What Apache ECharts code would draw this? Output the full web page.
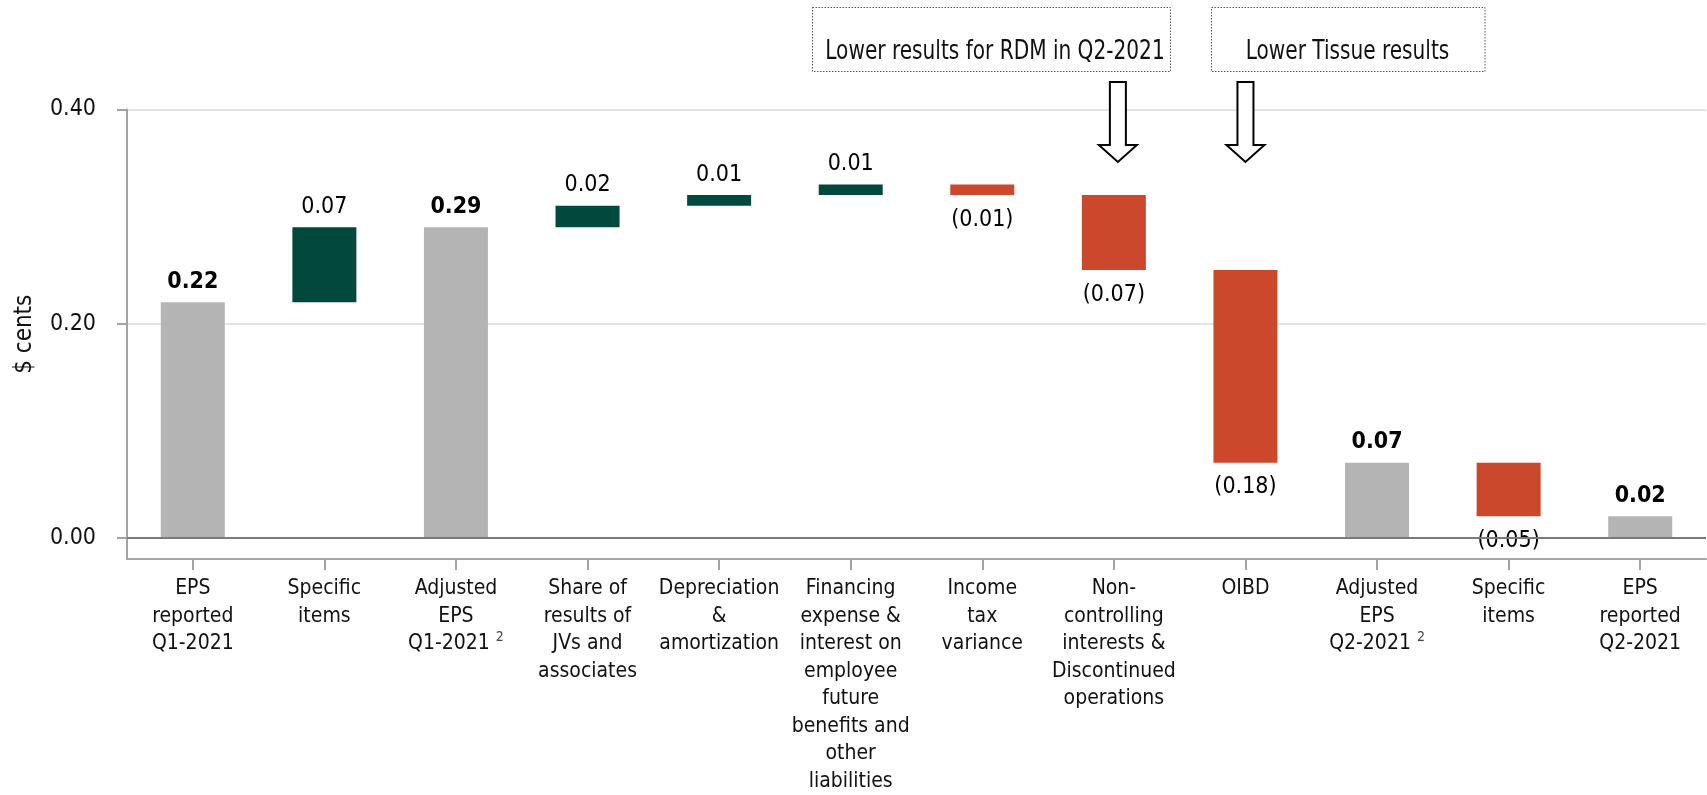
<!DOCTYPE html>
<html>
<head>
<meta charset="utf-8">
<script src="https://cdn.jsdelivr.net/npm/echarts@6/dist/echarts.min.js"></script>
<style>
  html, body { margin: 0; padding: 0; background: #fff; }
  #chart { width: 1707px; height: 795px; }
</style>
</head>
<body>
<div id="chart"></div>
<script>
const FONT = "'Liberation Sans Narrow', 'Arial Narrow', 'DejaVu Sans Condensed', sans-serif"

// categories (line breaks as in the slide) + footnote markers
const categories = [
  'EPS\nreported\nQ1-2021',
  'Specific\nitems',
  'Adjusted\nEPS\nQ1-2021',
  'Share of\nresults of\nJVs and\nassociates',
  'Depreciation\n&\namortization',
  'Financing\nexpense &\ninterest on\nemployee\nfuture\nbenefits and\nother\nliabilities',
  'Income\ntax\nvariance',
  'Non-\ncontrolling\ninterests &\nDiscontinued\noperations',
  'OIBD',
  'Adjusted\nEPS\nQ2-2021',
  'Specific\nitems',
  'EPS\nreported\nQ2-2021',
]
const footnotes = ['', '', '2', '', '', '', '', '', '', '2', '', '']

// waterfall: invisible base + visible step
const barBase = [0, 0.22, 0, 0.29, 0.31, 0.32, 0.32, 0.25, 0.07, 0, 0.02, 0]
const barSize = [0.22, 0.07, 0.29, 0.02, 0.01, 0.01, 0.01, 0.07, 0.18, 0.07, 0.05, 0.02]
const barKind = ['total', 'up', 'total', 'up', 'up', 'up', 'down', 'down', 'down', 'total', 'down', 'total']
const valueLabels = ['0.22', '0.07', '0.29', '0.02', '0.01', '0.01', '(0.01)', '(0.07)', '(0.18)', '0.07', '(0.05)', '0.02']

const yTicks = [0, 0.2, 0.4]

// call-outs pointing at bars
const notes = ['Lower results for RDM in Q2-2021', 'Lower Tissue results']
const noteTargets = [7, 8]

const colors = { total: '#b4b4b4', up: '#03483d', down: '#cc482d' }

const chart = echarts.init(document.getElementById('chart'))

const stepData = barSize.map((v, i) => {
  const kind = barKind[i]
  return {
    value: v,
    itemStyle: { color: colors[kind] },
    label: kind === 'down'
      ? { position: 'bottom', distance: 13, fontWeight: 'normal' }
      : { position: 'top', distance: 9, fontWeight: kind === 'total' ? 'bold' : 'normal' },
  }
})

const option = {
  animation: false,
  textStyle: { fontFamily: FONT },
  grid: {
    left: 127,
    right: 1,
    top: 109.5,
    bottom: 236,
    outerBoundsMode: 'none',
  },
  xAxis: {
    type: 'category',
    data: categories,
    axisLine: { onZero: false, lineStyle: { color: '#a3a3a3', width: 2 } },
    axisTick: { show: true, alignWithLabel: true, length: 11, lineStyle: { color: '#a3a3a3', width: 2 } },
    axisLabel: {
      interval: 0,
      margin: 16,
      fontSize: 21,
      lineHeight: 27.5,
      color: '#111',
      fontFamily: FONT,
      formatter: (v, i) => (footnotes[i] ? v + ' {sup|' + footnotes[i] + '}' : v),
      rich: {
        sup: { fontSize: 14, color: '#444', verticalAlign: 'top', lineHeight: 27.5, fontFamily: FONT },
      },
    },
    splitLine: { show: false },
  },
  yAxis: {
    type: 'value',
    min: -0.02,
    max: 0.4,
    name: '$ cents',
    nameLocation: 'middle',
    nameRotate: 90,
    nameGap: 90,
    nameTextStyle: { fontSize: 24, color: '#111', fontFamily: FONT },
    axisLine: { show: true, lineStyle: { color: '#a3a3a3', width: 2 } },
    axisTick: { show: true, length: 10, customValues: yTicks, lineStyle: { color: '#a3a3a3', width: 2 } },
    axisLabel: {
      customValues: yTicks,
      formatter: (v) => v.toFixed(2),
      margin: 31,
      fontSize: 23,
      color: '#111',
      fontFamily: FONT,
    },
    splitLine: { show: true, lineStyle: { color: '#e4e4e4', width: 2 } },
  },
  series: [
    {
      name: 'base',
      type: 'bar',
      stack: 'wf',
      barWidth: 64,
      silent: true,
      itemStyle: { color: 'transparent' },
      data: barBase,
    },
    {
      name: 'step',
      type: 'bar',
      stack: 'wf',
      barWidth: 64,
      label: {
        show: true,
        fontSize: 23,
        color: '#000',
        fontFamily: FONT,
        formatter: (p) => valueLabels[p.dataIndex],
      },
      markLine: {
        silent: true,
        symbol: 'none',
        label: { show: false },
        lineStyle: { color: '#7a7a7a', width: 2, type: 'solid' },
        data: [{ yAxis: 0 }],
      },
      data: stepData,
    },
  ],
}

chart.setOption(option)

// annotation boxes and hollow arrows
const boxes = [
  { x: 812.5, w: 358, tx: 995 },
  { x: 1211.5, w: 273.5, tx: 1347.5 },
]
const graphics = []
notes.forEach((txt, i) => {
  const b = boxes[i]
  graphics.push({
    type: 'rect',
    shape: { x: b.x, y: 7.5, width: b.w, height: 64 },
    style: { fill: 'none', stroke: '#555', lineWidth: 1, lineDash: [1.5, 1.5] },
    z: 10,
  })
  graphics.push({
    type: 'text',
    x: b.tx,
    y: 52,
    scaleX: 0.86,
    style: {
      text: txt,
      fontSize: 26,
      fontFamily: FONT,
      fill: '#111',
      align: 'center',
      verticalAlign: 'middle',
    },
    z: 10,
  })
  const cx = chart.convertToPixel({ xAxisIndex: 0 }, noteTargets[i]) + (i === 0 ? 4 : 0)
  graphics.push({
    type: 'polygon',
    shape: {
      points: [
        [cx - 8, 82], [cx + 8, 82], [cx + 8, 145], [cx + 19, 145],
        [cx, 162], [cx - 19, 145], [cx - 8, 145],
      ],
    },
    style: { fill: '#fff', stroke: '#000', lineWidth: 2 },
    z: 10,
  })
})
chart.setOption({ graphic: graphics })

window.addEventListener('resize', () => chart.resize())
</script>
</body>
</html>
